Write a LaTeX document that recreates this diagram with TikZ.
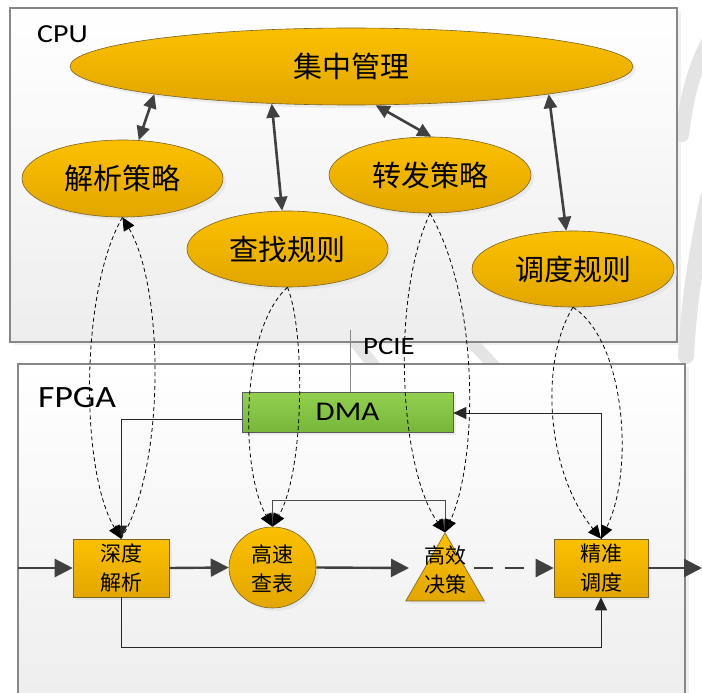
\documentclass[tikz,border=0pt]{standalone}
\usepackage{fontspec}
\setmainfont{Carlito}
\newfontfamily\lat[FakeStretch=1.15]{Carlito}
\newfontfamily\cjk{Noto Sans CJK SC}
\usetikzlibrary{arrows.meta,shapes.geometric,shadows,calc}
\definecolor{goldT}{RGB}{252,192,0}
\definecolor{goldB}{RGB}{226,166,0}
\definecolor{goldE}{RGB}{120,98,40}
\definecolor{greenT}{RGB}{146,208,80}
\definecolor{greenB}{RGB}{118,182,58}
\definecolor{greenE}{RGB}{90,90,90}
\definecolor{dark}{RGB}{64,64,64}
\definecolor{frame}{RGB}{135,135,135}
\definecolor{wm}{RGB}{228,228,228}
\begin{document}
\begin{tikzpicture}[x=1pt,y=-1pt,
  shad/.style={drop shadow={shadow xshift=3pt,shadow yshift=-3pt,fill=black!13}},
  gold/.style={draw=goldE, line width=0.6pt, top color=goldT, bottom color=goldB, shad},
  oval/.style={gold, ellipse, inner sep=0pt, font=\cjk\fontsize{29}{31}\selectfont},
  blk/.style={gold, rectangle, inner sep=0pt, align=center, font=\cjk\fontsize{21}{29}\selectfont},
  lbl/.style={inner sep=0pt, align=center, font=\cjk\fontsize{21}{29}\selectfont},
  panel/.style={draw=frame, line width=1.2pt, top color=white, bottom color=black!7, rectangle, inner sep=0pt,
    drop shadow={shadow xshift=4pt,shadow yshift=-3pt,fill=black!10}},
  dbl/.style={{Triangle[length=14pt,width=13pt]}-{Triangle[length=14pt,width=13pt]}, draw=dark, line width=2.6pt},
  dsh/.style={-{Triangle[length=13pt,width=12pt]}, draw=black, line width=0.8pt, dash pattern=on 4pt off 3pt},
  thin/.style={-{Triangle[length=13pt,width=12pt]}, draw=black!85, line width=1pt},
  flow/.style={-{Triangle[length=18pt,width=18pt]}, draw=dark, line width=2.4pt},
  wmk/.style={draw=wm, line cap=round},
]
\useasboundingbox (0,0) rectangle (702,693);
\clip (0,0) rectangle (702,693);
\fill[white] (0,0) rectangle (702,693);

% faint watermark behind the panels
\draw[wmk, line width=14pt] (708,42) .. controls (694,68) and (686,100) .. (682,135);
\draw[wmk, line width=16pt] (708,198) .. controls (697,250) and (689,300) .. (686,356);
\draw[wmk, line width=12pt] (468,338) -- (496,368);
\draw[wmk, line width=12pt] (352,338) -- (376,368);

% panels
\node[panel, minimum width=667pt, minimum height=334pt] (cpu) at (343.5,175) {};
\node[panel, minimum width=667pt, minimum height=346pt] (fpga) at (351.5,537) {};
\node[anchor=base west, inner sep=0pt, font=\lat\fontsize{26}{28}\selectfont] (cput) at (37,43) {CPU};
\node[anchor=base west, inner sep=0pt, font=\lat\fontsize{31}{33}\selectfont] (fpgat) at (38,407) {FPGA};

% CPU ellipses
\node[oval, minimum width=563pt, minimum height=77pt] (top) at (351.5,66.5) {集中管理};
\node[oval, minimum width=201pt, minimum height=77pt] (jx) at (122.5,178.5) {解析策略};
\node[oval, minimum width=201pt, minimum height=76pt] (cz) at (287.5,249) {查找规则};
\node[oval, minimum width=202pt, minimum height=76pt] (zf) at (430,175) {转发策略};
\node[oval, minimum width=202pt, minimum height=76pt] (dd) at (573,269) {调度规则};

\draw[dbl] (top.188) -- (jx.67);
\draw[dbl] (top.205) -- (cz.98);
\draw[dbl] (top.302) -- (zf.88);
\draw[dbl] (top.352) -- (dd.100);

% PCIE and DMA
\node[draw=greenE, line width=0.6pt, top color=greenT, bottom color=greenB, shad, minimum width=211pt, minimum height=40pt,
  inner sep=0pt, font=\lat\fontsize{27}{29}\selectfont] (dma) at (347.5,412) {DMA};
\coordinate (pc) at (350,330);
\draw[frame, line width=1pt] (pc) -- (pc |- dma.north);
\node[anchor=base west, inner sep=0pt, font=\lat\fontsize{25}{27}\selectfont] (pcie) at (363,354) {PCIE};

% FPGA modules
\node[blk, minimum width=96pt, minimum height=58pt] (deep) at (121,568) {深度\\解析};
\node[gold, ellipse, inner sep=0pt, minimum width=87pt, minimum height=81pt] (cir) at (272.5,567.5) {};
\node[lbl] (cirt) at (272.5,568.5) {高速\\查表};
\node[gold, regular polygon, regular polygon sides=3, inner sep=0pt, minimum size=90.6pt] (tri) at (445,578.3) {};
\node[lbl] (trit) at (445,570.5) {高效\\决策};
\node[blk, minimum width=94pt, minimum height=58pt] (jz) at (601,568) {精准\\调度};

% solid control lines
\draw[thin] ($(dma.west)+(0,7)$) -| (deep.north);
\draw[thin] (jz.north) |- ($(dma.east)+(0,1)$);
\draw[thin, {Triangle[length=13pt,width=12pt]}-{Triangle[length=13pt,width=12pt]}, draw=black!70] (cir.north) -- ++(0,-26) -| (tri.corner 1);
\draw[thin] (deep.south) -- ++(0,50) -| (jz.south);

% dashed CPU-FPGA links
\draw[dsh] (jx.south) .. controls (80,290) and (80,470) .. (deep.north);
\draw[dsh] (deep.north) .. controls (165,470) and (165,290) .. (jx.south);
\draw[dsh] (cz.south) .. controls (240,330) and (240,470) .. (cir.north);
\draw[dsh] (cz.south) .. controls (305,330) and (305,470) .. (cir.north);
\draw[dsh] (zf.south) .. controls (390,300) and (400,470) .. (tri.corner 1);
\draw[dsh] (zf.south) .. controls (480,300) and (478,460) .. (tri.corner 1);
\draw[dsh] (dd.south) .. controls (540,360) and (545,470) .. (jz.north);
\draw[dsh] (dd.south) .. controls (625,340) and (635,470) .. (jz.north);

% main flow
\coordinate (in) at (18,568);
\coordinate (trl) at (409,568);
\coordinate (trr) at (474,568);
\coordinate (out) at (702,568);
\draw[flow] (in) -- (deep.west);
\draw[flow] (deep.east) -- (cir.west);
\draw[flow] (cir.east) -- (trl);
\draw[flow, dash pattern=on 19pt off 12pt] (trr) -- (jz.west);
\draw[flow] (jz.east) -- (out);
\end{tikzpicture}
\end{document}
